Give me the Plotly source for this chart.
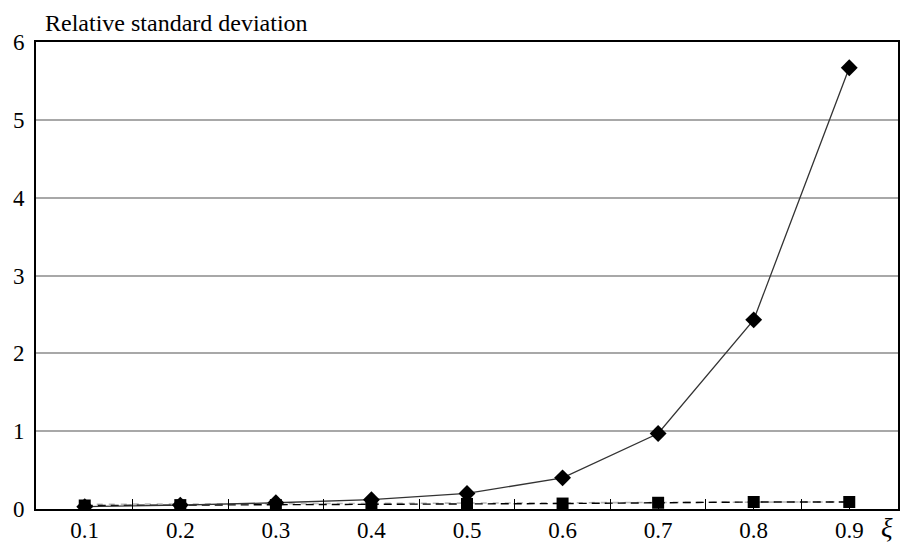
import plotly.graph_objects as go

xi = [0.1, 0.2, 0.3, 0.4, 0.5, 0.6, 0.7, 0.8, 0.9]
rsd_diamond = [0.03, 0.05, 0.08, 0.12, 0.2, 0.4, 0.97, 2.43, 5.67]
rsd_square = [0.045, 0.05, 0.05, 0.055, 0.065, 0.07, 0.08, 0.09, 0.09]
rsd_gray = [0.06, 0.065, 0.07, 0.072, 0.075, 0.078, 0.082, 0.088, 0.092]
x_ticks = [0.1, 0.2, 0.3, 0.4, 0.5, 0.6, 0.7, 0.8, 0.9]
y_ticks = [0, 1, 2, 3, 4, 5, 6]

FONT = "Liberation Serif"

fig = go.Figure()
fig.add_trace(go.Scatter(
    x=xi, y=rsd_gray, mode="lines",
    line=dict(color="#b8b8b8", width=1.6, dash="6px,6px"),
    hoverinfo="skip", showlegend=False,
))
fig.add_trace(go.Scatter(
    x=xi, y=rsd_square, mode="lines+markers",
    line=dict(color="black", width=1.4, dash="8px,5px"),
    marker=dict(symbol="square", size=12, color="black"),
    showlegend=False,
))
fig.add_trace(go.Scatter(
    x=xi, y=rsd_diamond, mode="lines+markers",
    line=dict(color="#333333", width=1.3),
    marker=dict(symbol="diamond", size=13, color="black"),
    showlegend=False,
))

fig.update_layout(
    width=904, height=548,
    margin=dict(l=36, r=4, t=42, b=39),
    paper_bgcolor="white", plot_bgcolor="white",
    font=dict(family=FONT, size=23, color="black"),
    xaxis=dict(
        range=[0.049, 0.951], tickvals=x_ticks,
        ticktext=[f"{v:.1f}" for v in x_ticks],
        ticks="inside", ticklen=10, tickcolor="black", tickwidth=1.2,
        minor=dict(dtick=0.05, tick0=0.05, ticks="inside", ticklen=10,
                   tickcolor="black", tickwidth=1.2, showgrid=False),
        showgrid=False, zeroline=False,
        showline=True, mirror=True, linecolor="black", linewidth=1.6,
        tickfont=dict(family=FONT, size=23),
    ),
    yaxis=dict(
        range=[0, 6], tickvals=y_ticks,
        ticks="", showgrid=True, gridcolor="#a8a8a8", gridwidth=1.5,
        zeroline=False,
        showline=True, mirror=True, linecolor="black", linewidth=1.6,
        tickfont=dict(family=FONT, size=23),
        ticklabelstandoff=5,
    ),
    annotations=[
        dict(text="Relative standard deviation", xref="paper", yref="paper",
             x=0.008, y=1.0, xanchor="left", yanchor="bottom", yshift=4,
             showarrow=False, font=dict(family=FONT, size=24)),
        dict(text="<i>ξ</i>", xref="paper", yref="paper",
             x=0.987, y=0, xanchor="center", yanchor="top", yshift=-2,
             showarrow=False, font=dict(family=FONT, size=27)),
    ],
)

fig.write_html("out.html")
